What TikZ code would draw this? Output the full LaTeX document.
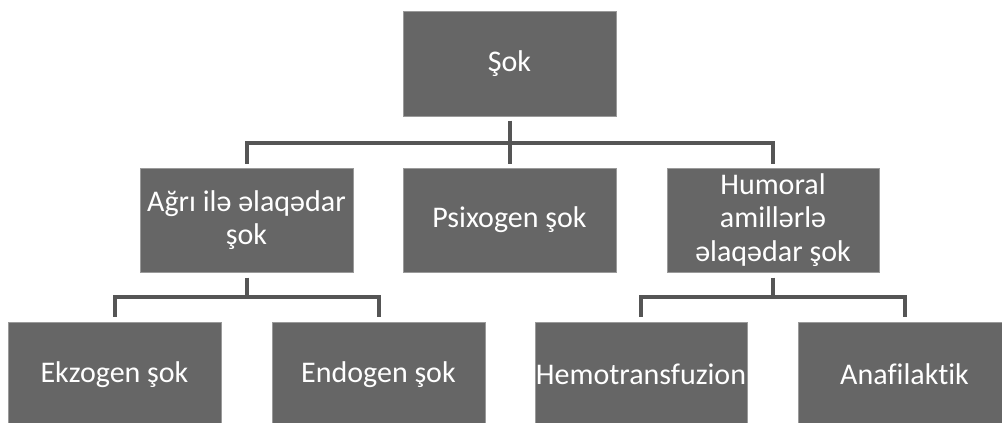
\documentclass[tikz,border=0pt]{standalone}
\usepackage{fontspec}
\setmainfont[Ligatures={NoCommon}]{Carlito}
\definecolor{boxfill}{HTML}{666666}
\definecolor{boxline}{HTML}{9A9A9A}
\definecolor{conncol}{HTML}{555555}
\tikzset{
  gbox/.style={rectangle, fill=boxfill, draw=boxline, line width=1pt, text=white,
    align=center, inner sep=0pt,
    font=\fontsize{30}{33.5}\selectfont},
  conn/.style={draw=conncol, line width=4pt}
}
\begin{document}
\begin{tikzpicture}[x=1pt,y=-1pt]
\useasboundingbox (0,0) rectangle (1002,423);
\clip (0,0) rectangle (1002,423);
\node[gbox, minimum width=213pt, minimum height=105pt] (top) at (509.5,63.5) {Şok};
\node[gbox, minimum width=213pt, minimum height=104pt] (agri) at (246.5,220) {Ağrı ilə əlaqədar\\şok};
\node[gbox, minimum width=213pt, minimum height=104pt] (psix) at (509.5,220) {Psixogen şok};
\node[gbox, minimum width=212pt, minimum height=104pt] (hum) at (773,220) {Humoral\\amillərlə\\əlaqədar şok};
\node[gbox, minimum width=213pt, minimum height=105pt] (ekz) at (114.5,374.5) {Ekzogen şok};
\node[gbox, minimum width=213pt, minimum height=105pt] (endo) at (378.5,374.5) {Endogen şok};
\node[gbox, minimum width=212pt, minimum height=105pt] (hemo) at (641,374.5) {Hemotransfuzion};
\node[gbox, minimum width=213pt, minimum height=105pt] (ana) at (904.5,374.5) {Anafilaktik};
% connectors
\draw[conn] ([yshift=-4pt]top.south) -- ([yshift=4pt]psix.north);
\draw[conn] ([yshift=4pt]agri.north) -- ++(0,-21) -| ([yshift=4pt]hum.north);
\draw[conn] ([yshift=-5pt]agri.south) -- ++(0,20);
\draw[conn] ([yshift=5pt]ekz.north) -- ++(0,-20) -| ([yshift=5pt]endo.north);
\draw[conn] ([yshift=-5pt]hum.south) -- ++(0,20);
\draw[conn] ([yshift=5pt]hemo.north) -- ++(0,-20) -| ([yshift=5pt]ana.north);
\end{tikzpicture}
\end{document}
